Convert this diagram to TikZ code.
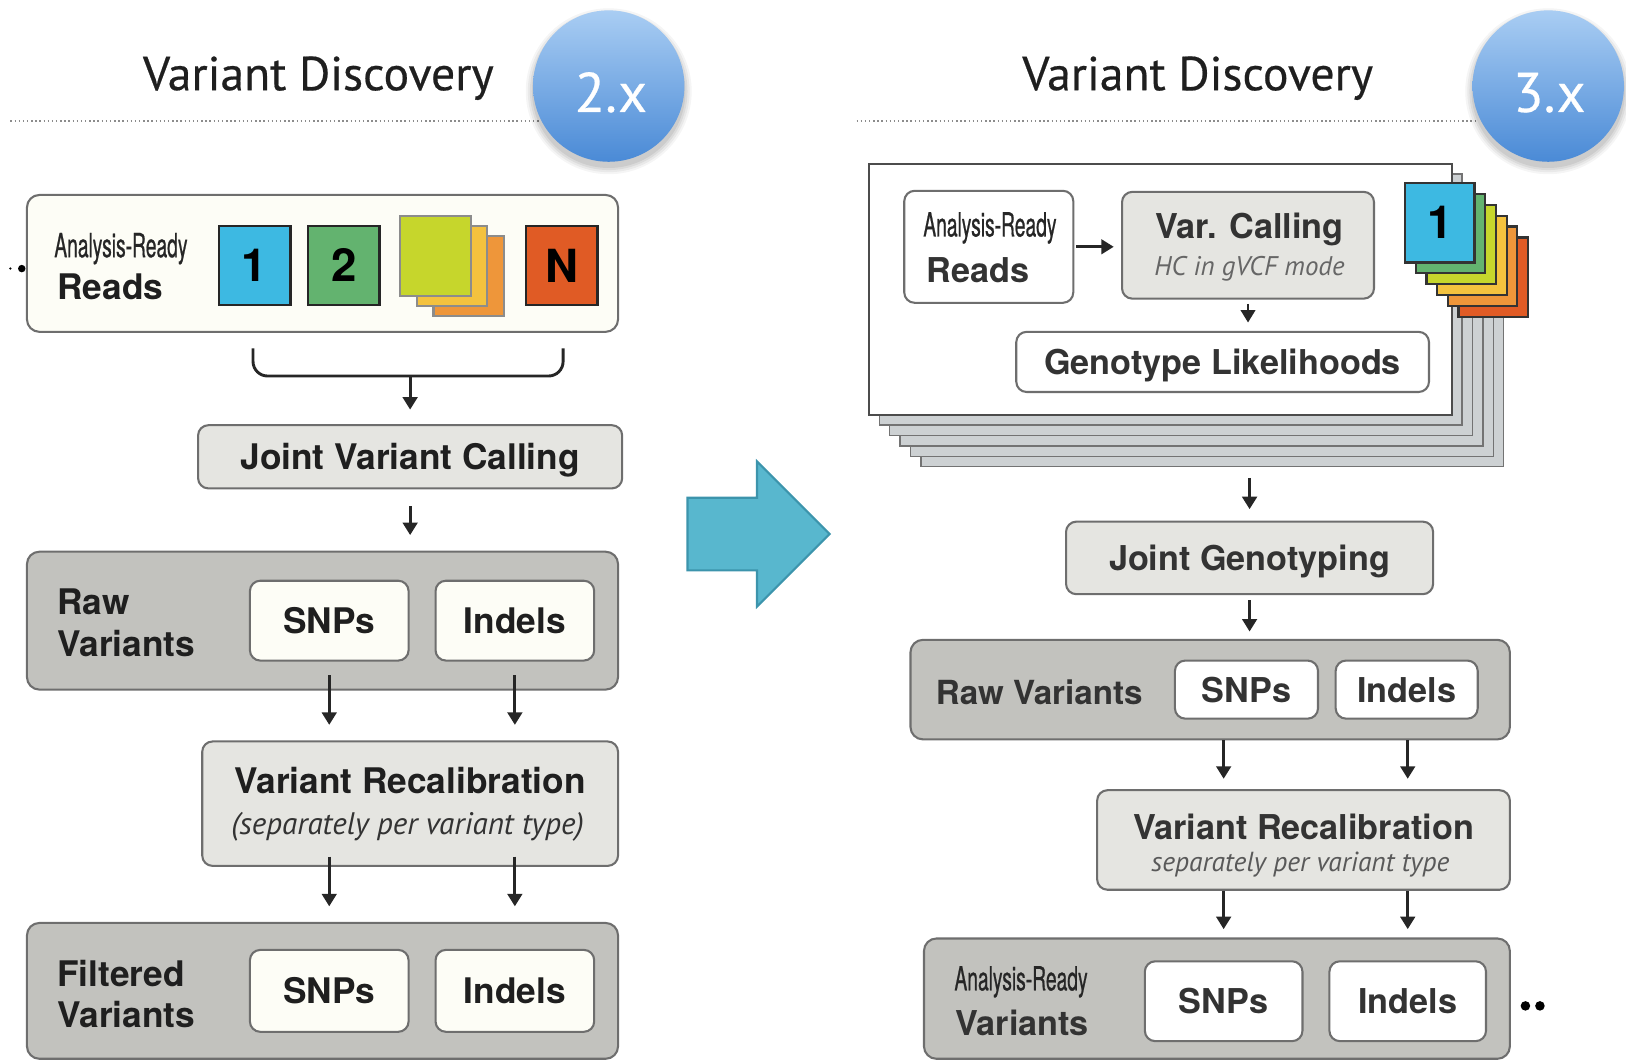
\documentclass[tikz,border=0pt]{standalone}
\usepackage{fontspec}
\setmainfont{TeX Gyre Heros}
\newfontfamily\myriad{PT Sans}
\newfontfamily\titlefnt[FakeBold=0.4]{PT Sans}
\newfontfamily\condfont[FakeStretch=0.58,FakeBold=0.6]{TeX Gyre Heros}
\usetikzlibrary{arrows.meta}
\definecolor{cream}{HTML}{FDFDF6}
\definecolor{lightfill}{HTML}{E5E5E1}
\definecolor{darkfill}{HTML}{C2C2BE}
\definecolor{boxline}{HTML}{6E6E6E}
\definecolor{sqcyan}{HTML}{3DB9E2}
\definecolor{sqgreen}{HTML}{63B36F}
\definecolor{sqlime}{HTML}{C6D62C}
\definecolor{sqyellow}{HTML}{F4C23E}
\definecolor{sqorange}{HTML}{EE963A}
\definecolor{sqred}{HTML}{E05B25}
\definecolor{bigarrow}{HTML}{58B7CE}
\definecolor{bigarrowline}{HTML}{3C94AC}
\definecolor{ctop}{HTML}{A9CDF3}
\definecolor{cbot}{HTML}{4A8AD6}
\definecolor{sheetfill}{HTML}{CDD1D3}
\newcommand\lblfont{\fontsize{17}{20}\selectfont\bfseries}
\newcommand\rlblfont{\fontsize{16.5}{20}\selectfont\bfseries}
\begin{document}
\begin{tikzpicture}[x=0.5pt,y=-0.5pt,
  box/.style={draw=boxline, line width=1pt, rounded corners=5pt, inner sep=0pt},
  creambox/.style={box, fill=cream},
  whitebox/.style={box, fill=white},
  lightbox/.style={box, fill=lightfill},
  darkbox/.style={box, fill=darkfill, rounded corners=6pt},
  lbltext/.style={font=\lblfont, text=black!88, inner sep=0pt},
  rlbltext/.style={font=\rlblfont, text=black!80, inner sep=0pt},
  inbox/.style={font=\lblfont, text=black!88, text depth=0pt},
  rinbox/.style={font=\rlblfont, text=black!80, text depth=0pt},
  condtext/.style={font=\condfont\fontsize{16}{16}\selectfont, text=black!85, inner sep=0pt},
  ittext/.style={font=\myriad\itshape\fontsize{15}{15}\selectfont, text=black!80, inner sep=0pt},
  titletext/.style={font=\titlefnt\fontsize{23}{23}\selectfont, text=black!88, inner sep=0pt, anchor=base},
  circtext/.style={font=\titlefnt\fontsize{27}{27}\selectfont, text=white, inner sep=0pt, anchor=base},
  badge/.style={circle, minimum size=73pt, inner sep=0pt, top color=ctop, bottom color=cbot},
  sqbox/.style={draw=black!85, line width=1.2pt, inner sep=0pt, minimum width=34.5pt, minimum height=38pt, font=\fontsize{22}{22}\selectfont\bfseries, text depth=0pt},
  stk/.style={draw=black!45, line width=1pt, inner sep=0pt, minimum width=34pt, minimum height=38.5pt},
  rsq/.style={draw=black!80, line width=1.1pt, inner sep=0pt, minimum width=33.5pt, minimum height=38.25pt, font=\fontsize{22}{22}\selectfont\bfseries, text depth=0pt},
  sheet/.style={draw=black!55, line width=0.7pt, fill=sheetfill, minimum width=281pt, minimum height=121pt, inner sep=0pt},
  dotline/.style={draw=black!45, line width=0.9pt, dash pattern=on 0.7pt off 1.3pt},
  arr/.style={line width=1.4pt, draw=black!85, -{Triangle[length=6pt,width=7pt]}},
  blob/.style={circle, fill=black, inner sep=0pt}
]
\useasboundingbox (0,0) rectangle (1568,1023);

% ---------- titles and badges ----------
\node[titletext] (t1) at (307,87) {Variant Discovery};
\node[titletext] (t2) at (1155,87) {Variant Discovery};
\coordinate (d1a) at (10,117);
\coordinate (d1b) at (520,117);
\coordinate (d2a) at (826,117);
\coordinate (d2b) at (1425,117);
\draw[dotline] (d1a) -- (d1b);
\draw[dotline] (d2a) -- (d2b);
\coordinate (c1c) at (587,83);
\coordinate (c2c) at (1493,83);
\foreach \r/\o in {40/0.04,39/0.05,38/0.06,37/0.07}{
  \fill[black,opacity=\o] (c1c) ++(0,5) circle (\r pt);
  \fill[black,opacity=\o] (c2c) ++(0,5) circle (\r pt);
}
\node[badge] (c1) at (c1c) {};
\node[badge] (c2) at (c2c) {};
\node[circtext] (c1t) at (589,108) {2.x};
\node[circtext] (c2t) at (1494,108) {3.x};

% ---------- left panel ----------
\node[blob, minimum size=1.2pt] (dotA) at (10,259) {};
\node[blob, minimum size=3.6pt] (dotB) at (21,259) {};
\node[creambox, rounded corners=6pt, minimum width=285pt, minimum height=66pt] (reads) at (311,254) {};
\node[condtext, anchor=base west] (ar1) at (52,248) {Analysis-Ready};
\node[lbltext, anchor=base west] (rd1) at (55,289) {Reads};
\node[sqbox, fill=sqcyan] (s1) at (245.5,256) {1};
\node[sqbox, fill=sqgreen] (s2) at (331.5,256) {2};
\node[stk, fill=sqorange] (s3c) at (452,266.5) {};
\node[stk, fill=sqyellow] (s3b) at (436,256.5) {};
\node[stk, fill=sqlime] (s3a) at (420,246.5) {};
\node[sqbox, fill=sqred] (sN) at (541.5,256) {N};

\coordinate (brk) at (395.5,362.6);
\coordinate (brkL) at (244,336);
\coordinate (brkR) at (543,336);
\draw[line width=1.4pt, draw=black!85, rounded corners=7pt] (brkL) -- (brkL |- brk) -- (brkR |- brk) -- (brkR);

\node[lightbox, minimum width=204.5pt, minimum height=30.5pt, inbox] (jvc) at (395.5,440.5) {Joint Variant Calling};
\draw[arr, shorten >=7pt] (brk) -- (jvc.north);

\node[darkbox, minimum width=285pt, minimum height=66.5pt] (raw) at (311,598.5) {};
\node[lbltext, anchor=base west] (rawa) at (55,593) {Raw};
\node[lbltext, anchor=base west] (rawb) at (55,633) {Variants};
\node[creambox, minimum width=76.5pt, minimum height=38.5pt, inbox] (snp1) at (317.5,598.5) {SNPs};
\node[creambox, minimum width=76.5pt, minimum height=38.5pt, inbox] (ind1) at (496.5,598.5) {Indels};
\draw[arr, shorten <=8pt, shorten >=7.5pt] (jvc.south) -- (jvc.south |- raw.north);

\node[lightbox, minimum width=200.5pt, minimum height=60pt] (vr) at (395.5,775) {};
\node[lbltext, anchor=base] (vrt) at (395.5,765) {Variant Recalibration};
\node[ittext, anchor=base] (vri) at (393,805) {(separately per variant type)};
\draw[arr, shorten <=6.5pt, shorten >=7.5pt] (snp1.south) -- (snp1.south |- vr.north);
\draw[arr, shorten <=6.5pt, shorten >=7.5pt] (ind1.south) -- (ind1.south |- vr.north);

\node[darkbox, minimum width=285pt, minimum height=65.5pt] (filt) at (311,955.5) {};
\node[lbltext, anchor=base west] (fia) at (55,951) {Filtered};
\node[lbltext, anchor=base west] (fib) at (55,991) {Variants};
\node[creambox, minimum width=76.5pt, minimum height=39.5pt, inbox] (snp2) at (317.5,955.5) {SNPs};
\node[creambox, minimum width=76.5pt, minimum height=39.5pt, inbox] (ind2) at (496.5,955.5) {Indels};
\draw[arr, shorten <=-5pt, shorten >=7.5pt] (vr.south -| snp2) -- (snp2 |- filt.north);
\draw[arr, shorten <=-5pt, shorten >=7.5pt] (vr.south -| ind2) -- (ind2 |- filt.north);

% ---------- big arrow ----------
\draw[fill=bigarrow, draw=bigarrowline, line width=1pt, line join=miter]
  (663,480) -- (730,480) -- (730,445) -- (800,515) -- (730,585) -- (730,550) -- (663,550) -- cycle;

% ---------- right panel ----------
\foreach \k in {5,4,3,2,1}{
  \node[sheet] (sheet\k) at ({1119+10*\k},{279+10*\k}) {};
}
\node[sheet, fill=white, draw=black!70, line width=1pt] (sheet0) at (1119,279) {};

\foreach \k/\c in {5/sqred,4/sqorange,3/sqyellow,2/sqlime,1/sqgreen}{
  \node[rsq, fill=\c] (rsq\k) at ({1388.5+10.3*\k},{214.75+10.5*\k}) {};
}
\node[rsq, fill=sqcyan] (rsq0) at (1388.5,214.75) {1};

\node[whitebox, minimum width=81.5pt, minimum height=54pt] (rreads) at (953.5,238) {};
\node[condtext, anchor=base west] (ar2) at (890,228) {Analysis-Ready};
\node[rlbltext, anchor=base west] (rd2) at (893,272) {Reads};
\node[lightbox, minimum width=121.5pt, minimum height=51.5pt] (vc) at (1203.5,236.5) {};
\node[rlbltext, anchor=base] (vct) at (1205,230) {Var. Calling};
\node[ittext, anchor=base, text=black!60, font=\myriad\itshape\fontsize{13}{13}\selectfont] (vci) at (1205,266) {HC in gVCF mode};
\draw[arr, shorten <=1pt, shorten >=3.5pt] (rreads.east) -- (rreads.east -| vc.west);
\node[whitebox, minimum width=199pt, minimum height=29pt, rinbox] (gl) at (1179,349) {Genotype Likelihoods};
\draw[arr, line width=1.1pt, shorten <=2pt, shorten >=4pt] (vc.south) -- (vc.south |- gl.north);

\node[lightbox, minimum width=177pt, minimum height=35pt, rinbox] (jg) at (1205,538) {Joint Genotyping};
\draw[arr, line width=1.7pt, shorten <=5pt, shorten >=5.5pt] (jg.north |- sheet5.south) -- (jg.north);

\node[darkbox, minimum width=289pt, minimum height=48pt] (rraw) at (1167,665) {};
\node[rlbltext, anchor=base west, font=\fontsize{16}{20}\selectfont\bfseries] (rrl) at (902,679) {Raw Variants};
\node[whitebox, minimum width=69pt, minimum height=28pt, rinbox] (rsnp1) at (1202,665) {SNPs};
\node[whitebox, minimum width=68.5pt, minimum height=28pt, rinbox] (rind1) at (1356.5,665) {Indels};
\draw[arr, shorten <=2.5pt, shorten >=3.5pt] (jg.south) -- (jg.south |- rraw.north);

\node[lightbox, minimum width=199pt, minimum height=48pt] (rvr) at (1257,810) {};
\node[rlbltext, anchor=base] (rvrt) at (1257,810) {Variant Recalibration};
\node[ittext, anchor=base, text=black!65, font=\myriad\itshape\fontsize{13.3}{13.3}\selectfont] (rvri) at (1254,840) {separately per variant type};

\node[darkbox, minimum width=282.5pt, minimum height=58pt] (rar) at (1173.5,963) {};
\node[condtext, anchor=base west] (ar3) at (920,955) {Analysis-Ready};
\node[rlbltext, anchor=base west] (rav) at (921,999) {Variants};
\node[whitebox, minimum width=76pt, minimum height=38.5pt, rinbox] (rsnp2) at (1180,965.5) {SNPs};
\node[whitebox, minimum width=75.5pt, minimum height=38.5pt, rinbox] (rind2) at (1357.5,965.5) {Indels};
\node[blob, minimum size=4.6pt] (dotC) at (1471,970) {};
\node[blob, minimum size=4.6pt] (dotD) at (1485,970) {};

\draw[arr, shorten >=5pt] (rraw.south -| rsnp2) -- (rsnp2 |- rvr.north);
\draw[arr, shorten >=5pt] (rraw.south -| rind2) -- (rind2 |- rvr.north);
\draw[arr, shorten >=4pt] (rvr.south -| rsnp2) -- (rsnp2 |- rar.north);
\draw[arr, shorten >=4pt] (rvr.south -| rind2) -- (rind2 |- rar.north);
\end{tikzpicture}
\end{document}
